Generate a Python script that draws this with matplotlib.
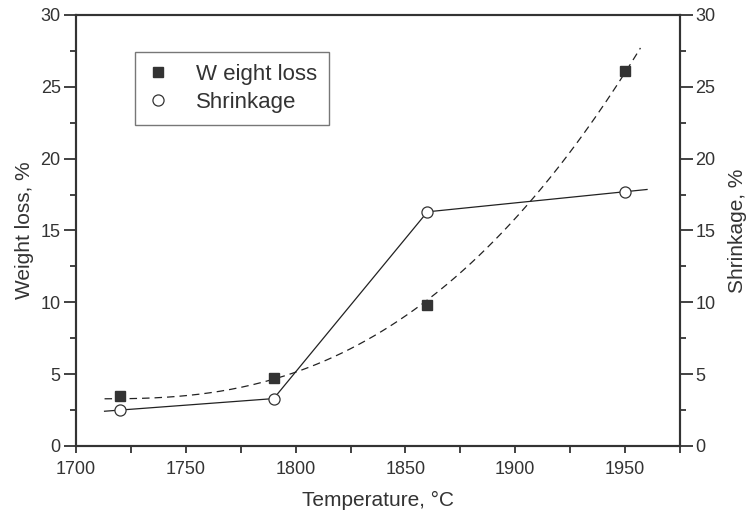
import numpy as np
import matplotlib
matplotlib.use('Agg')
import matplotlib.pyplot as plt

plt.rcParams['font.family'] = ['Liberation Sans', 'DejaVu Sans']

# data
temperature = [1720, 1790, 1860, 1950]
weight_loss = [3.5, 4.7, 9.8, 26.1]
shrinkage = [2.5, 3.3, 16.3, 17.7]

dark = '#333333'
t0, t1 = 1713, 1960   # span of the drawn curves

fig = plt.figure(figsize=(7.47, 5.2), dpi=100)
ax = fig.add_axes([76 / 747, 74 / 520, 604 / 747, 431 / 520])
ax2 = ax.twinx()

# dashed power-law fit of weight loss: y = a + b*(T - t0)**2.5
t = np.array(temperature, float)
w = np.array(weight_loss, float)
A = np.c_[np.ones_like(t), (t - t0) ** 2.5]
(a_fit, b_fit), *_ = np.linalg.lstsq(A, w, rcond=None)
tfit = np.linspace(t0, 1957, 200)
ax.plot(tfit, a_fit + b_fit * (tfit - t0) ** 2.5, color='#222222',
        lw=0.9, dashes=(6, 4))

# solid broken line for shrinkage, ends extended along first/last segment
s = np.array(shrinkage, float)
s_start = s[0] + (s[1] - s[0]) / (t[1] - t[0]) * (t0 - t[0])
s_end = s[-1] + (s[-1] - s[-2]) / (t[-1] - t[-2]) * (t1 - t[-1])
ax2.plot(np.r_[t0, t, t1], np.r_[s_start, s, s_end], '-', color='#222222', lw=0.9)

sq, = ax.plot(temperature, weight_loss, 's', color=dark, ms=7, ls='none')
ci, = ax2.plot(temperature, shrinkage, 'o', mfc='white', mec=dark, mew=0.9,
               ms=8, ls='none')

ax.set_xlim(1700, 1975)
ax.set_ylim(0, 30)
ax2.set_ylim(0, 30)
ax.set_xticks(np.arange(1700, 1951, 50))
ax.set_xticks(np.arange(1725, 1976, 50), minor=True)
for a in (ax, ax2):
    a.set_yticks(np.arange(0, 31, 5))
    a.set_yticks(np.arange(2.5, 30, 5), minor=True)
    for sp in a.spines.values():
        sp.set_color(dark)
        sp.set_linewidth(1.5)
    a.tick_params(axis='y', which='major', direction='out', length=9, width=1.3,
                  color=dark, labelsize=13, labelcolor=dark, pad=2)
    a.tick_params(axis='y', which='minor', direction='out', length=4, width=1.3,
                  color=dark)
ax.tick_params(axis='x', which='major', direction='out', length=5, width=1.3,
               color=dark, labelsize=13, labelcolor=dark, pad=6)
ax.tick_params(axis='x', which='minor', direction='out', length=5, width=1.3,
               color=dark)

ax.set_xlabel('Temperature, °C', fontsize=15, color=dark, labelpad=9)
ax.set_ylabel('Weight loss, %', fontsize=15, color=dark, labelpad=5)
ax2.set_ylabel('Shrinkage, %', fontsize=15, color=dark, labelpad=9)

leg = ax.legend([sq, ci], ['W eight loss', 'Shrinkage'], loc='upper left',
                bbox_to_anchor=((135 - 76) / 604, (446 - 52) / 431),
                borderaxespad=0, fontsize=16, frameon=True, fancybox=False,
                handlelength=1.0, handletextpad=1.2, borderpad=0.55,
                labelspacing=0.3, labelcolor=dark)
leg.get_frame().set_edgecolor('#555555')
leg.get_frame().set_linewidth(1.0)

fig.savefig('out.png', dpi=100)
